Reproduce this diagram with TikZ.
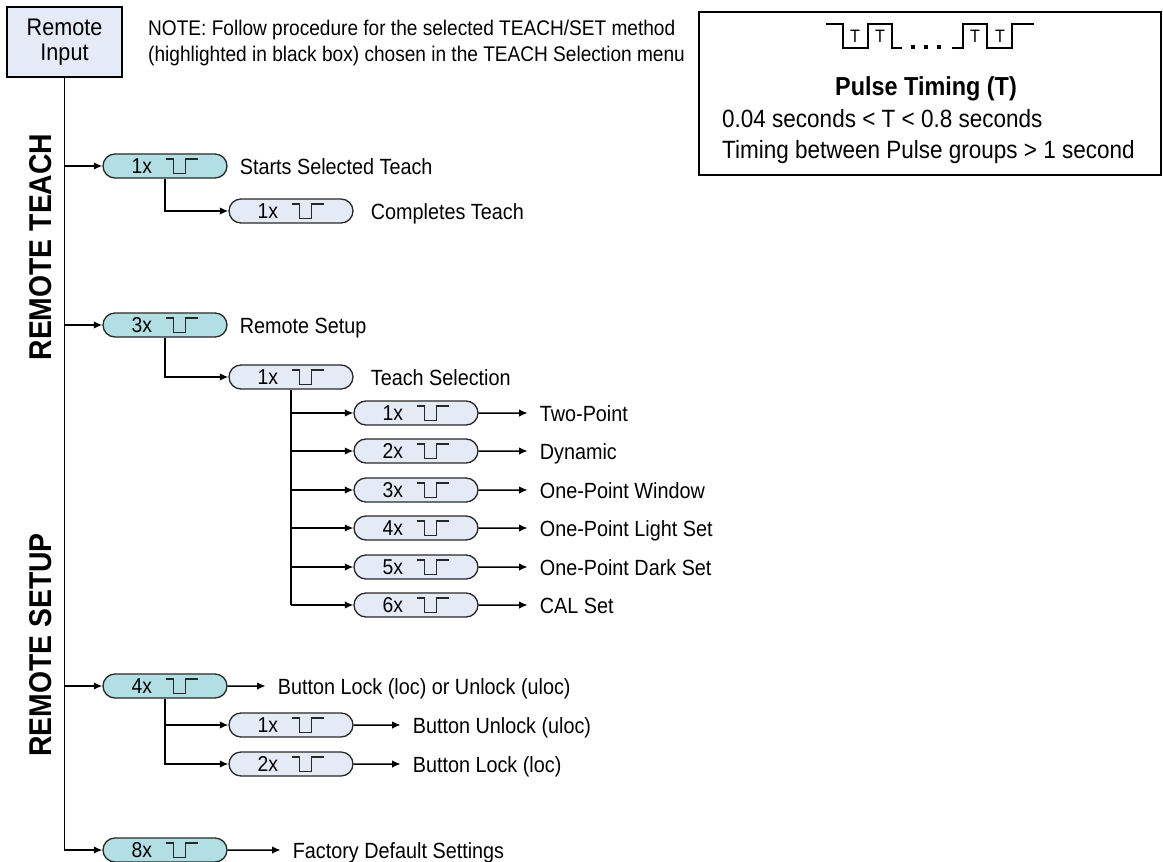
\documentclass[tikz,border=0pt]{standalone}
\usepackage{fontspec}
\setmainfont[FakeStretch=0.9]{Liberation Sans}
\usetikzlibrary{positioning,shapes.misc,arrows.meta}

\definecolor{tealfill}{RGB}{178,223,228}
\definecolor{paleblue}{RGB}{228,235,247}
\definecolor{edgegray}{RGB}{40,40,40}

% little pulse symbol used inside every pill
\newcommand{\pulsesym}{\tikz[x=1pt,y=1pt,baseline=0pt]\draw[line width=1.3pt,edgegray] (0,14.5)--(8,14.5)--(8,0)--(20,0)--(20,14.5)--(32,14.5);}
\newcommand{\pulsegroup}[1]{#1x\hspace{13pt}\pulsesym}

\tikzset{
    pill/.style = {rounded rectangle, draw=edgegray, line width=1.3pt,
                   minimum width=124pt, minimum height=24pt, inner sep=0pt,
                   text height=15pt, text depth=0pt, font=\fontsize{21.5}{24}\selectfont},
    firstpill/.style = {pill, fill=tealfill},
    subpill/.style = {pill, fill=paleblue},
    lbl/.style = {anchor=west, inner xsep=12pt, inner ysep=0pt,
                  text height=16pt, text depth=0pt, font=\fontsize{22}{26}\selectfont},
    link/.style = {line width=1.5pt, -{Latex[length=8.5pt,width=7.5pt]}},
    wire/.style = {line width=1.5pt},
    side/.style = {rotate=90, inner sep=0pt, font=\bfseries\fontsize{31.5}{34}\selectfont},
    boxtext/.style = {anchor=west, inner sep=0pt, text height=18pt, text depth=0pt, font=\fontsize{25}{28}\selectfont},
}

\begin{document}
\begin{tikzpicture}[x=1pt, y=-1pt]
    \useasboundingbox (0,0) rectangle (1163,862);

    % input box and note
    \node[draw, line width=1.8pt, fill=paleblue, minimum width=115pt, minimum height=70pt,
          inner sep=0pt, align=center, font=\fontsize{24}{25}\selectfont] (remote) at (64.5,42) {Remote\\Input};
    \node[anchor=north west, align=left, inner sep=0pt, font=\fontsize{21.2}{26}\selectfont] (note) at (148,20)
        {NOTE: Follow procedure for the selected TEACH/SET method\\(highlighted in black box) chosen in the TEACH Selection menu};

    % side titles
    \node[side] (teachtitle) at (41,247) {REMOTE TEACH};
    \node[side] (setuptitle) at (41,645) {REMOTE SETUP};

    % pulse timing box
    \node[draw, line width=2pt, minimum width=462pt, minimum height=163pt, inner sep=0pt] (timing) at (930,93.5) {};
    \draw[line width=1.7pt] (826,24)--(843,24)--(843,48)--(868,48)--(868,24)--(892,24)--(892,48)--(902,48);
    \draw[line width=1.7pt] (952,48)--(963,48)--(963,24)--(987,24)--(987,48)--(1012,48)--(1012,24)--(1034,24);
    \foreach \x in {913,926,939}
        \fill (\x-2.2,44.5) rectangle (\x+2.2,48.7);
    \foreach \x in {855,880,975,1000}
        \node[inner sep=0pt, font=\fontsize{18}{18}\selectfont] at (\x,36) {T};
    \node[inner sep=0pt, text height=18.5pt, text depth=0pt, font=\bfseries\fontsize{26}{28}\selectfont] (ptitle) at (926,86) {Pulse Timing (T)};
    \node[boxtext] (range) at (722,118) {0.04 seconds < T < 0.8 seconds};
    \node[boxtext] (groups) at (722,149) {Timing between Pulse groups > 1 second};

    % remote teach
    \node[firstpill] (p1) at (165,166) {\pulsegroup{1}};
    \node[lbl, right=0pt of p1] (p1l) {Starts Selected Teach};
    \node[subpill] (c1) at (291,211) {\pulsegroup{1}};
    \node[lbl, right=5pt of c1] (c1l) {Completes Teach};

    % remote setup
    \node[firstpill] (p3) at (165,325) {\pulsegroup{3}};
    \node[lbl, right=0pt of p3] (p3l) {Remote Setup};
    \node[subpill] (sel) at (291,377) {\pulsegroup{1}};
    \node[lbl, right=5pt of sel] (sell) {Teach Selection};

    \foreach \n/\y/\txt in {1/413/Two-Point, 2/451/Dynamic, 3/490/One-Point Window,
                            4/528/One-Point Light Set, 5/567/One-Point Dark Set, 6/605/CAL Set} {
        \node[subpill] (t\n) at (416,\y) {\pulsegroup{\n}};
        \node[lbl, right=49pt of t\n] (tl\n) {\txt};
        \draw[link] (t\n) -- (tl\n);
        \draw[link] (sel.south |- t\n) -- (t\n);
    }
    \draw[wire] (sel.south) -- (sel.south |- t6);

    \node[firstpill] (p4) at (165,686) {\pulsegroup{4}};
    \node[lbl, right=38pt of p4] (p4l) {Button Lock (loc) or Unlock (uloc)};
    \node[subpill] (u1) at (291,725) {\pulsegroup{1}};
    \node[lbl, right=47pt of u1] (u1l) {Button Unlock (uloc)};
    \node[subpill] (u2) at (291,764) {\pulsegroup{2}};
    \node[lbl, right=47pt of u2] (u2l) {Button Lock (loc)};

    \node[firstpill] (p8) at (165,850) {\pulsegroup{8}};
    \node[lbl, right=53pt of p8] (p8l) {Factory Default Settings};

    % connectors
    \draw[link] (remote.south) |- (p8);
    \draw[link] (remote.south |- p1) -- (p1);
    \draw[link] (remote.south |- p3) -- (p3);
    \draw[link] (remote.south |- p4) -- (p4);
    \draw[link] (p1.south) |- (c1);
    \draw[link] (p3.south) |- (sel);
    \draw[link] (p4.south) |- (u1);
    \draw[link] (p4.south) |- (u2);
    \draw[link] (p4) -- (p4l);
    \draw[link] (u1) -- (u1l);
    \draw[link] (u2) -- (u2l);
    \draw[link] (p8) -- (p8l);
\end{tikzpicture}
\end{document}
